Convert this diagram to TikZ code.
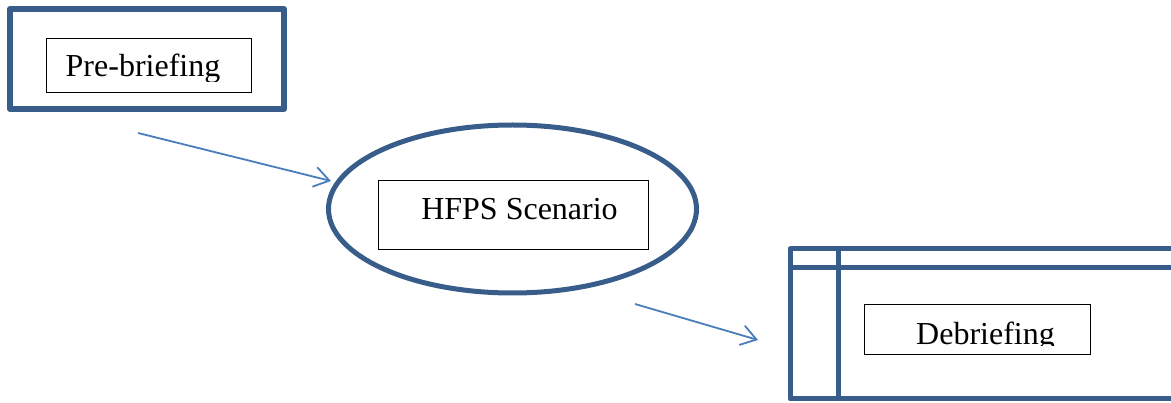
\documentclass[tikz,border=0pt]{standalone}
\usepackage{fontspec}
\setmainfont{Liberation Serif}
\usetikzlibrary{arrows.meta}
\definecolor{frameblue}{RGB}{56,93,138}
\definecolor{arrowblue}{RGB}{74,126,187}
\tikzset{
	frame/.style={draw=frameblue, line width=6pt, line join=round},
	txtbox/.style={draw=black, line width=0.9pt, inner sep=0pt},
	lbl/.style={inner sep=0pt, anchor=base, font=\fontsize{32}{36}\selectfont},
	flow/.style={draw=arrowblue, line width=1.8pt, -{Straight Barb[length=15pt, width=20pt, line width=1.8pt]}}
}

\begin{document}
\begin{tikzpicture}[x=1pt, y=-1pt]
			%%%%% START %%%%%
			\useasboundingbox (0, 0) rectangle (1171, 403);
			
			% pre-briefing
			\draw[frame] (10, 9) rectangle (284, 109);
			\node[txtbox, minimum width=205, minimum height=54] (pre) at (148.5, 65) {};
			\begin{scope}
				\clip (46, 38) rectangle (251, 82);
				\node[lbl] (prelbl) at (143, 77) {Pre-briefing};
			\end{scope}
			
			% scenario
			\draw[frame, line width=5pt] (512.5, 209) ellipse [x radius=184, y radius=84];
			\node[txtbox, minimum width=270, minimum height=69] (scen) at (513, 214.5) {};
			\node[lbl] (scenlbl) at (519.5, 220) {HFPS Scenario};
			
			% debriefing
			\draw[frame, line width=5pt] (1200, 249) -- (790, 249) -- (790, 399) -- (1200, 399);
			\draw[frame, line width=5pt] (790, 268) -- (1200, 268);
			\draw[frame, line width=5pt] (838, 249) -- (838, 399);
			\node[txtbox, minimum width=226, minimum height=50] (deb) at (977, 329) {};
			\begin{scope}
				\clip (864, 304) rectangle (1090, 346);
				\node[lbl] (deblbl) at (985.5, 345) {Debriefing};
			\end{scope}
			
			% arrows
			\coordinate (a1s) at (138, 133);
			\coordinate (a1e) at (331, 181);
			\coordinate (a2s) at (635, 304);
			\coordinate (a2e) at (758, 340);
			\draw[flow] (a1s) -- (a1e);
			\draw[flow] (a2s) -- (a2e);
			%%%%% END %%%%%
\end{tikzpicture}
\end{document}
